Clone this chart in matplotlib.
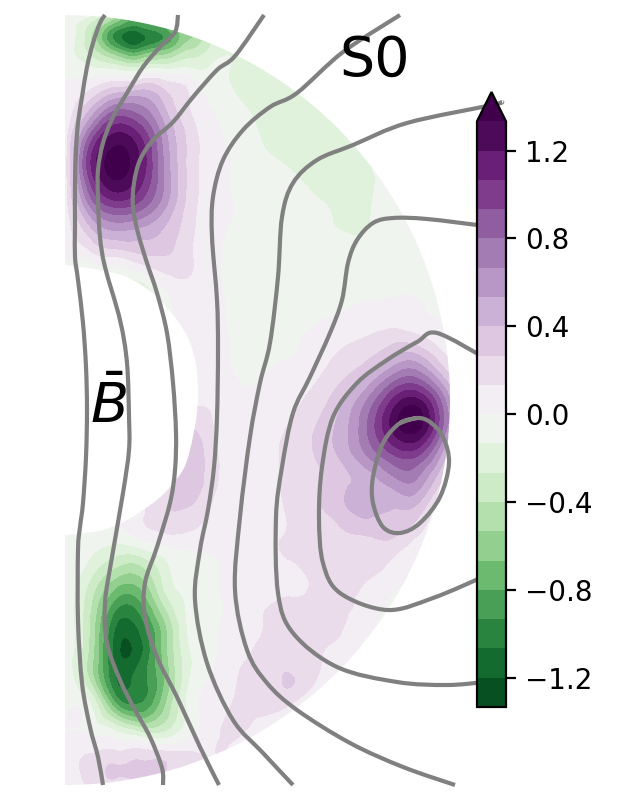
import numpy as np
import matplotlib
matplotlib.use("Agg")
import matplotlib.pyplot as plt
import matplotlib.tri as mtri
from matplotlib.path import Path
from matplotlib.patches import PathPatch

# field sample positions (picture units)
x_cols = [65, 90, 115, 140, 165, 190, 215, 240, 265, 290, 315, 340, 365, 390, 415, 440, 465]
y_rows = [15, 25, 37, 50, 65, 80, 105, 130, 155, 180, 205, 230, 255, 280, 305, 330, 355, 380,
          405, 430, 455, 480, 505, 530, 555, 580, 605, 630, 655, 680, 705, 730, 755, 770, 785]

r015 = [-.03, -.1, -.45, -.8, -.6, -.3, -.15, -.1, -.1, -.1, -.05, -.05, -.05, -.05, -.05, -.05, -.05]
r025 = [-.05, -.3, -.75, -.9, -.75, -.45, -.2, -.15, -.1, -.1, -.05, -.05, -.05, -.05, -.05, -.05, -.05]
r037 = [-.05, -.38, -.98, -1.13, -.92, -.55, -.24, -.17, -.12, -.1, -.05, -.05, -.05, -.05, -.05, -.05, -.05]
r050 = [-.05, -.33, -.72, -.88, -.68, -.4, -.2, -.16, -.15, -.1, -.05, -.05, -.05, -.05, -.05, -.05, -.05]
r065 = [-.03, -.15, -.26, -.33, -.25, -.18, -.12, -.17, -.16, -.1, -.05, -.05, -.05, -.05, -.05, -.05, -.05]
r080 = [0, .02, .1, .14, .12, .04, -.09, -.18, -.18, -.16, -.12, -.05, -.05, -.05, -.05, -.05, -.05]
r105 = [0, .33, .67, .66, .38, .13, -.02, -.12, -.17, -.18, -.17, -.12, -.05, -.05, -.05, -.05, -.05]
r130 = [.03, .72, 1.15, 1.0, .55, .2, .02, -.08, -.15, -.18, -.19, -.16, -.1, -.05, -.05, -.05, -.05]
r155 = [.05, 1.02, 1.38, 1.18, .62, .22, .04, -.03, -.12, -.16, -.18, -.18, -.13, -.08, -.05, -.05, -.05]
r180 = [.05, .95, 1.33, 1.12, .64, .22, .04, -.02, -.05, -.11, -.16, -.18, -.17, -.08, -.05, -.05, -.05]
r205 = [.06, .68, .98, .88, .56, .2, .04, -.01, -.04, -.07, -.11, -.16, -.16, -.06, -.05, -.05, -.05]
r230 = [.05, .35, .54, .5, .38, .17, .03, -.02, -.03, -.05, -.06, -.135, -.14, -.05, -.05, -.05, -.05]
r255 = [.03, .08, .16, .25, .27, .15, .02, -.04, -.03, -.04, -.04, -.04, -.05, -.05, -.05, -.05, -.05]
r280 = [-.08, -.14, -.18, -.12, .07, .12, .02, -.04, -.03, -.03, -.03, -.03, -.03, -.03, -.03, -.03, -.03]
r305 = [0, 0, -.1, -.2, -.05, .03, .02, -.04, -.03, -.03, -.03, -.02, .01, .02, .01, -.03, -.03]
r330 = [0, 0, 0, 0, -.05, .03, .03, -.03, -.02, -.01, .01, .06, .1, .14, .1, .03, 0]
r355 = [0, 0, 0, 0, 0, .03, .03, -.02, -.01, -.003, .05, .15, .22, .36, .42, .18, .05]
r380 = [0, 0, 0, 0, .02, .05, .05, -.003, .005, .05, .12, .25, .42, .72, .85, .5, .1]
r405 = [0, 0, 0, 0, .05, .12, .1, .03, .05, .1, .2, .38, .68, 1.1, 1.32, .85, .2]
r430 = [0, 0, 0, 0, .1, .27, .12, .04, .08, .15, .27, .45, .76, 1.18, 1.37, .85, .2]
r455 = [0, 0, 0, .05, .2, .33, .16, .04, .1, .16, .27, .42, .65, .9, .97, .55, .1]
r480 = [0, 0, .05, .15, .2, .33, .16, .04, .1, .16, .24, .35, .45, .6, .67, .3, .05]
r505 = [0, .05, .08, .1, .25, .27, .1, .04, .1, .15, .25, .36, .47, .42, .41, .08, 0]
r530 = [-.02, -.03, -.03, .08, .16, .14, .05, .03, .1, .14, .2, .25, .3, .32, .2, .02, 0]
r555 = [-.02, -.12, -.25, -.25, -.1, -.02, 0, .03, .09, .14, .15, .2, .22, .16, .03, 0, 0]
r580 = [-.03, -.27, -.56, -.58, -.22, -.07, -.01, .05, .06, .11, .14, .15, .14, .06, -.02, 0, 0]
r605 = [-.04, -.38, -.87, -.85, -.38, -.1, -.02, .05, .12, .15, .15, .15, .1, -.02, -.02, 0, 0]
r630 = [-.05, -.42, -1.08, -1.05, -.58, -.1, -.01, .07, .14, .17, .17, .14, .02, -.02, -.02, 0, 0]
r655 = [-.05, -.45, -1.12, -1.1, -.6, -.15, -.01, .11, .16, .18, .16, .09, -.02, -.02, -.02, 0, 0]
r680 = [-.06, -.42, -1.05, -1.0, -.65, -.13, .02, .14, .16, .28, .14, .02, -.02, -.02, 0, 0, 0]
r705 = [-.03, -.12, -.75, -.92, -.55, -.08, .07, .16, .17, .13, 0, 0, 0, 0, 0, 0, 0]
r730 = [0, -.03, -.15, -.33, -.3, -.05, .1, .15, .05, 0, 0, 0, 0, 0, 0, 0, 0]
r755 = [.06, .14, .18, .22, .2, .16, .13, .08, 0, 0, 0, 0, 0, 0, 0, 0, 0]
r770 = [.09, .17, .29, .3, .27, .18, .1, .05, 0, 0, 0, 0, 0, 0, 0, 0, 0]
r785 = [.07, .14, .2, .23, .2, .12, .05, 0, 0, 0, 0, 0, 0, 0, 0, 0, 0]

field_rows = [r015, r025, r037, r050, r065, r080, r105, r130, r155, r180, r205, r230, r255, r280,
              r305, r330, r355, r380, r405, r430, r455, r480, r505, r530, r555, r580, r605, r630,
              r655, r680, r705, r730, r755, r770, r785]

# grey flux lines
l1x = [105, 100, 93, 87, 82, 78, 76, 75, 75, 75, 78, 83, 86, 87, 86, 83, 80, 78, 78, 82, 90, 98, 103]
l1y = [15, 23, 43, 67, 97, 123, 150, 183, 227, 257, 280, 323, 367, 410, 457, 503, 527, 550, 620, 683, 727, 757, 785]
l2x = [178, 175, 160, 143, 127, 113, 103, 98, 98, 100, 105, 120, 127, 129, 129, 123, 112, 105, 107, 120, 135, 150, 162, 163]
l2y = [15, 32, 47, 67, 93, 117, 143, 170, 200, 237, 267, 320, 363, 417, 450, 493, 557, 603, 643, 680, 710, 737, 768, 785]
l3x = [264, 235, 217, 193, 173, 153, 140, 134, 133, 138, 147, 157, 167, 173, 176, 175, 170, 157, 145, 145, 157, 177, 200, 219]
l3y = [15, 56, 70, 97, 122, 140, 160, 183, 207, 233, 263, 293, 333, 383, 433, 470, 503, 547, 583, 617, 657, 697, 747, 785]
l4x = [400, 343, 297, 270, 243, 223, 213, 212, 217, 218, 217, 214, 208, 200, 195, 207, 233, 263, 293]
l4y = [15, 52, 93, 107, 130, 160, 197, 237, 300, 350, 417, 467, 510, 550, 600, 663, 720, 753, 785]
l5x = [502, 492, 407, 353, 317, 293, 282, 278, 270, 260, 250, 240, 235, 247, 267, 297, 350, 403, 455]
l5y = [102, 105, 123, 145, 160, 183, 217, 277, 343, 383, 437, 517, 590, 650, 683, 710, 743, 767, 785]
l6x = [485, 427, 393, 373, 357, 348, 342, 330, 310, 293, 282, 276, 278, 293, 337, 397, 447, 485]
l6y = [226, 219, 218, 223, 240, 263, 300, 333, 377, 413, 467, 517, 593, 633, 667, 682, 685, 682]
l7x = [485, 437, 417, 387, 357, 333, 322, 319, 323, 340, 387, 433, 485]
l7y = [358, 333, 342, 360, 383, 417, 467, 517, 563, 593, 610, 598, 576]
l8x = [417, 400, 383, 373, 373, 383, 400, 420, 440, 449, 443, 430, 417, 400]
l8y = [418, 423, 443, 477, 503, 527, 533, 523, 497, 463, 437, 422, 418, 423]
line_xs = [l1x, l2x, l3x, l4x, l5x, l6x, l7x, l8x]
line_ys = [l1y, l2y, l3y, l4y, l5y, l6y, l7y, l8y]

# inner edge of the plotted region, bottom to top
hole_x = [65, 77, 103, 125, 143, 158, 170, 183, 190, 196, 198, 196, 189, 177, 165, 153, 127, 100, 80, 65]
hole_y = [535, 534, 530, 521, 510, 499, 487, 470, 450, 420, 393, 365, 340, 320, 306, 293, 277, 270, 267, 265]

cbar_ticks = [-1.2, -0.8, -0.4, 0.0, 0.4, 0.8, 1.2]
cbar_labels = ["\u22121.2", "\u22120.8", "\u22120.4", "0.0", "0.4", "0.8", "1.2"]
levels = np.linspace(-4 / 3, 4 / 3, 21)


def curve_through(xs, ys):
    """Path of Bezier segments passing through the read points."""
    p = np.column_stack([xs, ys]).astype(float)
    verts = [p[0]]
    codes = [Path.MOVETO]
    for i in range(len(p) - 1):
        p0 = p[max(i - 1, 0)]
        p1, p2 = p[i], p[i + 1]
        p3 = p[min(i + 2, len(p) - 1)]
        verts += [p1 + (p2 - p0) / 6, p2 - (p3 - p1) / 6, p2]
        codes += [Path.CURVE4] * 3
    return Path(verts, codes)


fig = plt.figure(figsize=(3.2, 4.0), dpi=200)
ax = fig.add_axes([0, 0, 1, 1])
ax.set_xlim(0, 640)
ax.set_ylim(800, 0)
ax.axis("off")

gx, gy = np.meshgrid(x_cols, y_rows)
values = np.array(field_rows).ravel()
tri = mtri.Triangulation(gx.ravel().astype(float), gy.ravel().astype(float))
refiner = mtri.UniformTriRefiner(tri)
tri_fine, values_fine = refiner.refine_field(values, subdiv=3)
cs = ax.tricontourf(tri_fine, values_fine, levels=levels, cmap="PRGn_r", extend="max")

theta = np.linspace(np.pi / 2, -np.pi / 2, 200)
hole = curve_through(hole_x, hole_y).interpolated(1)
hole_pts = hole.to_polygons(closed_only=False)[0]
clip_x = np.concatenate([65 + 385 * np.cos(theta), hole_pts[:, 0]])
clip_y = np.concatenate([400 - 385 * np.sin(theta), hole_pts[:, 1]])
clip_path = Path(np.column_stack([clip_x, clip_y]), closed=False)
cs.set_clip_path(clip_path, ax.transData)

for lx, ly in zip(line_xs, line_ys):
    ax.add_patch(PathPatch(curve_through(lx, ly), facecolor="none", edgecolor="#808080",
                           lw=1.5, joinstyle="round", zorder=3))

ax.text(375, 61, "S0", fontsize=20, ha="center", va="center")
ax.text(108, 407, r"$\bar{B}$", fontsize=20, ha="center", va="center")

cax = fig.add_axes([477 / 640, 1 - 707 / 800, 29 / 640, 615 / 800])
cb = fig.colorbar(cs, cax=cax, ticks=cbar_ticks)
cb.ax.tick_params(labelsize=10)
cb.set_ticklabels(cbar_labels)

fig.savefig("out.png", dpi=200)
